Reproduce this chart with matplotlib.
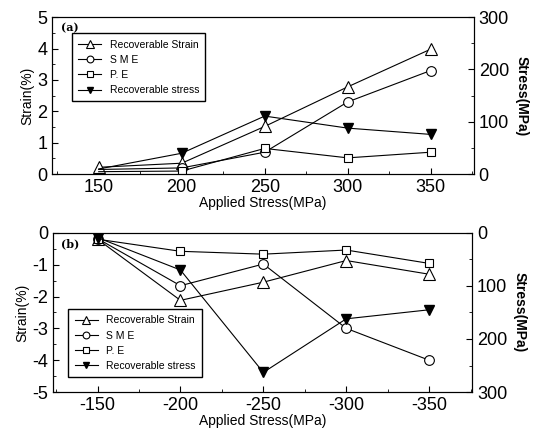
import numpy as np
import matplotlib
matplotlib.use("Agg")
import matplotlib.pyplot as plt
from matplotlib.ticker import MultipleLocator

plt.rcParams['font.family'] = ['Liberation Sans', 'DejaVu Sans']
plt.rcParams['axes.unicode_minus'] = False

# (a) tensão aplicada positiva
stress_a = [150, 200, 250, 300, 350]
rec_strain_a = [0.22, 0.35, 1.52, 2.78, 3.98]
sme_a = [0.15, 0.2, 0.7, 2.3, 3.3]
pe_a = [0.08, 0.1, 0.82, 0.52, 0.7]
rec_stress_a = [10, 40, 111, 88, 76]

# (b) tensão aplicada negativa
stress_b = [-150, -200, -250, -300, -350]
rec_strain_b = [-0.2, -2.12, -1.55, -0.87, -1.3]
sme_b = [-0.18, -1.66, -0.98, -3.0, -4.0]
pe_b = [-0.2, -0.58, -0.67, -0.54, -0.96]
rec_stress_b = [9, 70, 263, 162, 145]

labels = ["Recoverable Strain", "S M E", "P. E", "Recoverable stress"]


def draw_panel(ax, x, rs, sme, pe, rstress, tag, skip_first=False):
    ax2 = ax.twinx()
    # no painel (a) só o triângulo aberto aparece em 150
    every = slice(1, None) if skip_first else None
    h1, = ax.plot(x, rs, '-', color='k', lw=0.8, marker='^', ms=8,
                  mfc='white', mec='k', mew=0.8)
    h2, = ax.plot(x, sme, '-', color='k', lw=0.8, marker='o', ms=7,
                  mfc='white', mec='k', mew=0.8, markevery=every)
    h3, = ax.plot(x, pe, '-', color='k', lw=0.8, marker='s', ms=6,
                  mfc='white', mec='k', mew=0.8, markevery=every)
    h4, = ax2.plot(x, rstress, '-', color='k', lw=0.8, marker='v', ms=7,
                   mfc='k', mec='k', markevery=every)
    for a in (ax, ax2):
        a.tick_params(which='both', direction='in', labelsize=13)
        a.tick_params(which='major', length=4)
        a.tick_params(which='minor', length=2)
    ax.xaxis.set_major_locator(MultipleLocator(50))
    ax.xaxis.set_minor_locator(MultipleLocator(25))
    ax.yaxis.set_major_locator(MultipleLocator(1))
    ax.yaxis.set_minor_locator(MultipleLocator(0.5))
    ax2.yaxis.set_major_locator(MultipleLocator(100))
    ax2.yaxis.set_minor_locator(MultipleLocator(50))
    ax.set_xlabel("Applied Stress(MPa)", fontsize=10, labelpad=0)
    ax.set_ylabel("Strain(%)", fontsize=10, labelpad=2)
    ax2.set_ylabel("Stress(MPa)", fontsize=10, fontweight='bold',
                   rotation=270, labelpad=14)
    ax.text(0.02, 0.93, tag, transform=ax.transAxes, fontsize=8,
            fontweight='bold', family='DejaVu Serif', va='center')
    return ax2, [h1, h2, h3, h4]


def add_legend(ax, hs, **kw):
    ax.legend(hs, labels, fontsize=7.5, frameon=True, fancybox=False,
              edgecolor='k', handlelength=2.2, borderpad=0.6,
              labelspacing=0.5, markerscale=0.7, framealpha=1, **kw)


fig = plt.figure(figsize=(5.33, 4.28), dpi=100)
ax_a = fig.add_axes([0.098, 0.593, 0.791, 0.367])
ax_b = fig.add_axes([0.099, 0.084, 0.787, 0.372])

ax2_a, hs = draw_panel(ax_a, stress_a, rec_strain_a, sme_a, pe_a, rec_stress_a,
                       "(a)", skip_first=True)
ax_a.set_xlim(122, 376)
ax_a.set_ylim(0, 5)
ax2_a.set_ylim(0, 300)
add_legend(ax_a, hs, loc='upper left', bbox_to_anchor=(0.035, 0.93))

ax2_b, hs = draw_panel(ax_b, stress_b, rec_strain_b, sme_b, pe_b, rec_stress_b, "(b)")
ax_b.set_xlim(-123, -376)
ax_b.set_ylim(-5, 0)
ax2_b.set_ylim(300, 0)
add_legend(ax_b, hs, loc='lower left', bbox_to_anchor=(0.025, 0.06))

fig.savefig("out.png", dpi=100)
